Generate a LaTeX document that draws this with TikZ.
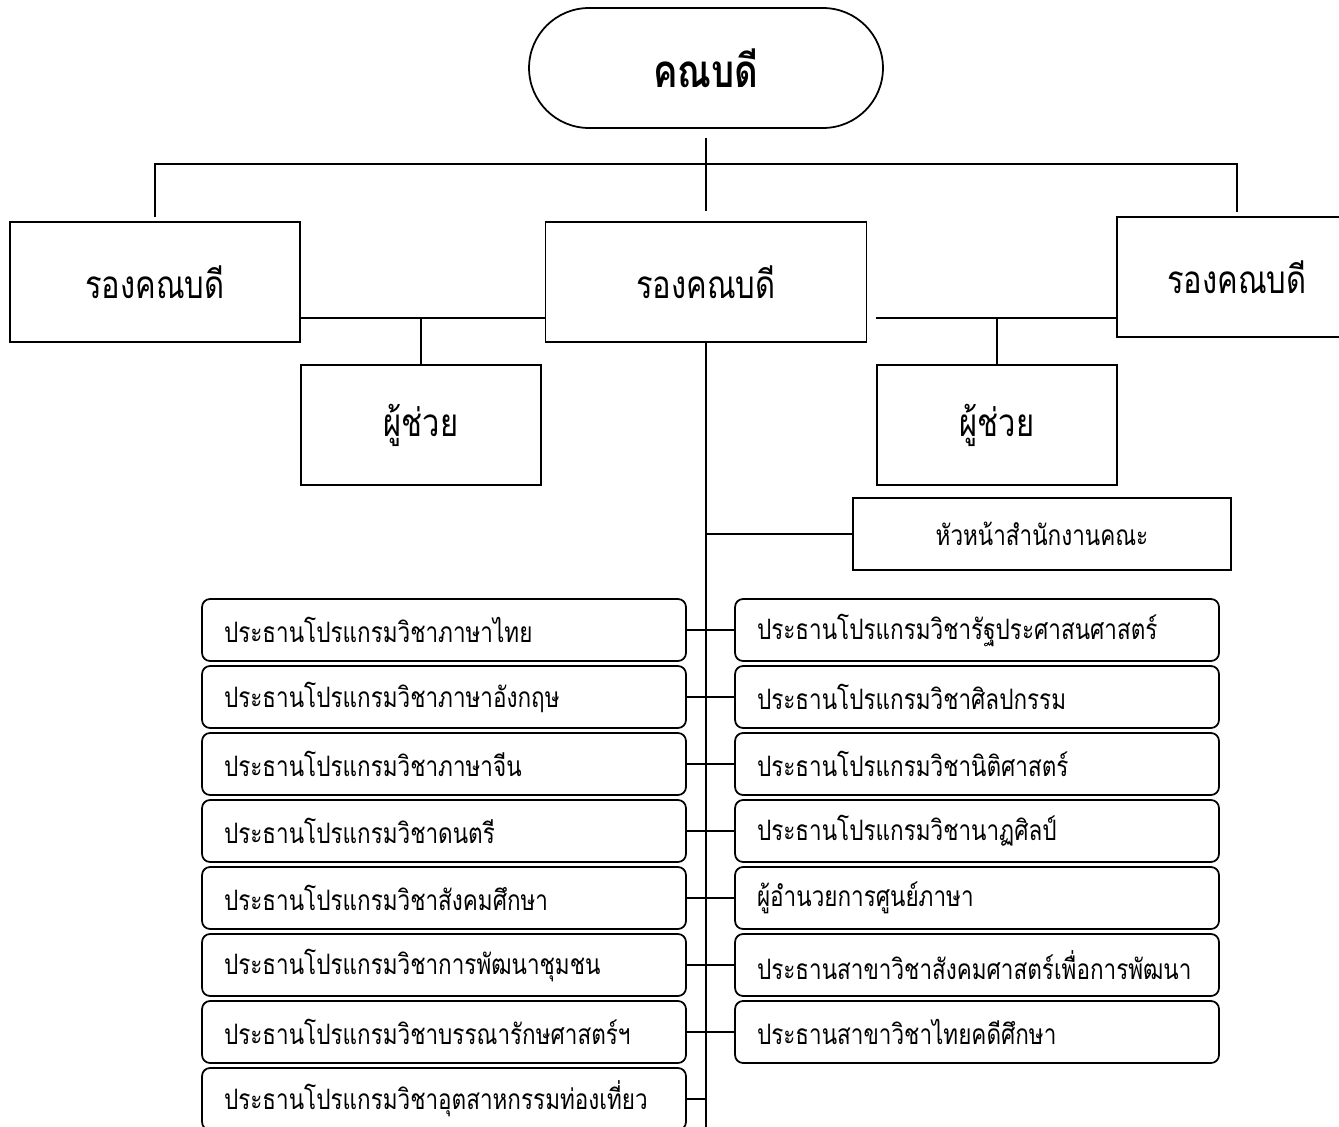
\documentclass[tikz,border=0pt]{standalone}
\usepackage{fontspec}
\setmainfont[Script=Thai,FakeStretch=0.8]{Loma}
\usetikzlibrary{positioning}

\begin{document}
\begin{tikzpicture}[x=0.02cm,y=-0.02cm]

		% Define basic styles
		\tikzset{
			deanbox/.style={
				rectangle, draw=black, line width=1pt, rounded corners=1.2cm,
				minimum width=7.08cm, minimum height=2.4cm,
				font=\fontsize{26}{30}\selectfont\bfseries
			},
			vpbox/.style={
				rectangle, draw=black, line width=1pt,
				minimum width=5.8cm, minimum height=2.4cm,
				font=\fontsize{22}{26}\selectfont
			},
			progbox/.style={
				rectangle, draw=black, line width=1pt, rounded corners=0.16cm,
				text width=8.8cm, inner xsep=0.44cm, align=left,
				minimum height=1.24cm,
				font=\fontsize{16}{19}\selectfont
			},
			link/.style={
				line width=1.1pt
			}
		}

		\clip (0,0) rectangle (1339,1126);

		% Nodes
		\node[deanbox] (dean) at (706,68) {คณบดี};
		\node[vpbox] (lvp) at (155,282) {รองคณบดี};
		\node[vpbox, minimum width=6.42cm] (midvp) at (706,282) {รองคณบดี};
		\node[vpbox, minimum width=4.8cm] (rvp) at (1237,277) {รองคณบดี};
		\node[vpbox, minimum width=4.8cm] (lasst) at (421,425) {ผู้ช่วย};
		\node[vpbox, minimum width=4.8cm] (rasst) at (997,425) {ผู้ช่วย};
		\node[vpbox, minimum width=7.56cm, minimum height=1.44cm,
			font=\fontsize{16}{19}\selectfont] (head) at (1042,534) {หัวหน้าสำนักงานคณะ};

		\foreach \name [count=\i] in {ประธานโปรแกรมวิชาภาษาไทย,
				ประธานโปรแกรมวิชาภาษาอังกฤษ,
				ประธานโปรแกรมวิชาภาษาจีน,
				ประธานโปรแกรมวิชาดนตรี,
				ประธานโปรแกรมวิชาสังคมศึกษา,
				ประธานโปรแกรมวิชาการพัฒนาชุมชน,
				ประธานโปรแกรมวิชาบรรณารักษศาสตร์ฯ,
				ประธานโปรแกรมวิชาอุตสาหกรรมท่องเที่ยว}
			\node[progbox] (l\i) at (444,{630+67*(\i-1)}) {\name};

		\foreach \name [count=\i] in {ประธานโปรแกรมวิชารัฐประศาสนศาสตร์,
				ประธานโปรแกรมวิชาศิลปกรรม,
				ประธานโปรแกรมวิชานิติศาสตร์,
				ประธานโปรแกรมวิชานาฏศิลป์,
				ผู้อำนวยการศูนย์ภาษา,
				ประธานสาขาวิชาสังคมศาสตร์เพื่อการพัฒนา,
				ประธานสาขาวิชาไทยคดีศึกษา}
			\node[progbox] (r\i) at (977,{630+67*(\i-1)}) {\name};

		\coordinate (bar) at (706,164);
		\coordinate (ljoin) at (421,318);
		\coordinate (rjoin) at (997,318);
		\coordinate (spineend) at (706,1130);

		% Arrows
		\draw[link, shorten <=0.18cm, shorten >=0.2cm] (dean) -- (midvp);
		\draw[link, shorten <=0.08cm, shorten >=0.08cm] (lvp.north) |- (bar) -| (rvp.north);
		\draw[link] (lvp.east |- ljoin) -- (midvp.west |- ljoin);
		\draw[link] (ljoin) -- (lasst);
		\draw[link] (rasst.west |- rjoin) -- (rvp.west |- rjoin);
		\draw[link] (rjoin) -- (rasst);
		\draw[link, line width=1.5pt] (midvp) -- (spineend);
		\draw[link] (head.west) -- (head.west -| spineend);
		\foreach \i in {1,...,7}
			\draw[link] (l\i.east) -- (r\i.west);
		\draw[link] (l8.east) -- (l8.east -| spineend);

	\end{tikzpicture}
\end{document}
